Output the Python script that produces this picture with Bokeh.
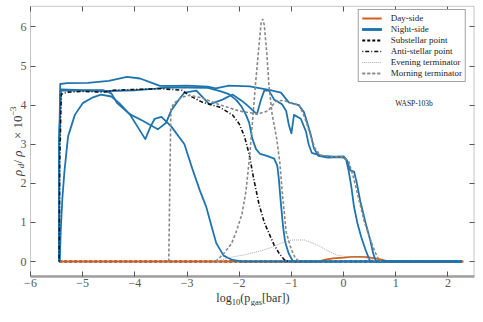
import math
from bokeh.plotting import figure
from bokeh.models import (Range1d, FixedTicker, LinearAxis, Label, Legend, LegendItem,
                          BoxAnnotation)
from bokeh.embed import file_html
from bokeh.resources import INLINE

# ---------------- data ----------------
x_ticks = [-6, -5, -4, -3, -2, -1, 0, 1, 2]
x_tick_labels = ["\u22126", "\u22125", "\u22124", "\u22123", "\u22122", "\u22121", "0", "1", "2"]
y_ticks = [0, 1, 2, 3, 4, 5, 6]
y_tick_labels = ["0", "1", "2", "3", "4", "5", "6"]
x_limits = [-6.0, 2.5]
y_limits = [-0.372, 6.526]

substellar_x = [-5.45, 2.3]
substellar_y = [0.0, 0.0]

day_x = [-5.45, -0.48, -0.35, -0.2, 0.0, 0.15, 0.3, 0.45, 0.6, 0.75, 0.86, 2.3]
day_y = [0.0, 0.0, 0.05, 0.08, 0.1, 0.12, 0.12, 0.11, 0.08, 0.04, 0.0, 0.0]

night1_x = [-5.45, -5.45, -5.43, -5.3, -4.9, -4.5, -4.15, -3.9, -3.7, -3.52, -3.3, -3.0, -2.6, -2.45,
            -2.2, -1.8, -1.43, -1.2, -1.05, -0.86, -0.76, -0.70, -0.63, -0.57, -0.48, -0.3, -0.1,
            0.0, 0.05, 0.1, 0.15, 0.2, 0.27, 0.34, 0.42, 0.5, 0.55, 2.27]
night1_y = [0.0, 3.0, 4.54, 4.56, 4.57, 4.62, 4.72, 4.68, 4.58, 4.49, 4.49, 4.5, 4.47, 4.43,
            4.5, 4.48, 4.39, 4.32, 4.07, 4.0, 3.82, 3.57, 3.25, 2.9, 2.7, 2.66, 2.67,
            2.66, 2.6, 2.3, 1.9, 1.4, 0.95, 0.62, 0.3, 0.03, 0.0, 0.0]

night2_x = [-5.45, -5.45, -5.42, -5.0, -4.6, -4.45, -4.34, -4.1, -3.85, -3.56, -3.4, -3.3, -3.15,
            -3.05, -2.82, -2.57, -2.32, -2.13, -1.96, -1.85, -1.66, -1.58, -1.52, -1.43, -1.33,
            -1.18, -1.1, -1.05, -1.0, -0.95, -0.82, -0.72, -0.67, -0.61, -0.42, -0.2, 0.0, 0.06,
            0.13, 0.2, 0.25, 0.32, 0.42, 0.51, 0.57, 0.62, 2.27]
night2_y = [0.0, 3.0, 4.4, 4.38, 4.38, 4.3, 4.05, 3.77, 3.6, 3.38, 3.55, 3.87, 4.15,
            4.32, 4.37, 4.02, 4.14, 4.27, 4.12, 4.0, 3.77, 4.15, 4.37, 4.37, 4.14,
            4.02, 3.85, 3.5, 3.28, 3.75, 3.65, 3.32, 3.0, 2.78, 2.7, 2.68, 2.69, 2.6,
            2.33, 2.3, 2.03, 1.54, 1.0, 0.55, 0.2, 0.0, 0.0]

night3_x = [-5.45, -5.45, -5.42, -5.0, -4.5, -4.0, -3.6, -3.4, -3.0, -2.6, -2.35, -2.2, -2.05,
            -1.95, -1.87, -1.81, -1.75, -1.68, -1.6, -1.47, -1.33, -1.27, -1.24, -1.2, -1.16,
            -1.12, -1.05, -0.97, 2.27]
night3_y = [0.0, 3.0, 4.38, 4.37, 4.36, 4.38, 4.42, 4.45, 4.45, 4.44, 4.35, 4.28, 4.12,
            3.95, 3.75, 3.55, 3.15, 2.88, 2.75, 2.7, 2.63, 2.45, 2.1, 1.46, 0.9,
            0.5, 0.2, 0.0, 0.0]

night4_x = [-5.44, -5.42, -5.39, -5.35, -5.28, -5.15, -5.0, -4.8, -4.65, -4.45, -4.3, -4.1, -3.95,
            -3.8, -3.7, -3.62, -3.49, -3.3, -3.05, -2.9, -2.75, -2.63, -2.52, -2.44, -2.3,
            -2.13, -1.95, 2.27]
night4_y = [0.0, 0.8, 1.6, 2.3, 3.2, 3.75, 4.05, 4.2, 4.27, 4.22, 4.05, 3.77, 3.45,
            3.13, 3.45, 3.65, 3.7, 3.45, 3.0, 2.38, 1.8, 1.39, 0.85, 0.47, 0.15,
            0.04, 0.0, 0.0]

anti_x = [-5.45, -5.44, -5.41, -5.3, -5.0, -4.6, -4.4, -4.0, -3.5, -3.1, -2.95, -2.7, -2.38,
          -2.13, -2.0, -1.9, -1.81, -1.72, -1.62, -1.52, -1.43, -1.33, -1.24, -1.14, -1.05]
anti_y = [0.0, 2.5, 4.28, 4.33, 4.35, 4.33, 4.38, 4.4, 4.42, 4.38, 4.24, 4.07, 3.95,
          3.75, 3.52, 3.2, 2.75, 2.1, 1.46, 1.0, 0.72, 0.42, 0.22, 0.05, 0.0]

evening_x = [-2.42, -2.2, -1.9, -1.6, -1.4, -1.2, -1.0, -0.75, -0.5, -0.3, -0.1, 0.1, 0.4, 0.55, 0.62]
evening_y = [0.0, 0.1, 0.17, 0.27, 0.35, 0.47, 0.55, 0.55, 0.42, 0.27, 0.15, 0.12, 0.1, 0.05, 0.0]

morning1_x = [-3.35, -3.33, -3.31, -3.25, -3.1, -2.95, -2.7, -2.4, -2.0, -1.65, -1.45, -1.3,
              -1.15, -1.0, -0.85, -0.75, -0.65, -0.55, -0.45, -0.2, 0.0, 0.1, 0.2, 0.3, 0.4,
              0.5, 0.6, 0.68, 0.72]
morning1_y = [0.0, 2.0, 3.9, 4.05, 4.2, 4.25, 4.18, 4.02, 3.85, 3.77, 3.85, 4.1,
              4.12, 4.05, 4.0, 3.7, 3.3, 2.9, 2.72, 2.68, 2.68, 2.55, 2.1, 1.55, 1.0,
              0.62, 0.25, 0.03, 0.0]

morning2_x = [-2.45, -2.3, -2.15, -2.06, -1.95, -1.87, -1.8, -1.75, -1.69, -1.63, -1.58, -1.55,
              -1.52, -1.47, -1.43, -1.37, -1.28, -1.22, -1.17, -1.1, -1.0, -0.93, -0.85]
morning2_y = [0.0, 0.2, 0.45, 0.75, 1.2, 1.8, 2.7, 3.5, 4.5, 5.4, 6.1, 6.2,
              6.05, 5.3, 4.5, 3.77, 3.13, 2.5, 1.7, 0.75, 0.3, 0.1, 0.0]

legend_labels = ["Day-side", "Night-side", "Substellar point", "Anti-stellar point",
                 "Evening terminator", "Morning terminator"]
planet_name = "WASP-103b"

# ---------------- layout ----------------
W, H = 475, 306
XS = 52.18          # px per x unit
YS = 39.1           # px per y unit
LEFT_PX = 30        # canvas px of x = -6
ZERO_PX = 261       # canvas px of y = 0
x0 = x_limits[0] - LEFT_PX / XS
x1 = x0 + W / XS
y1 = ZERO_PX / YS
y0 = y1 - H / YS

ORANGE = "#d2601a"
BLUE = "#1f74b0"
SERIF = "Liberation Serif"

p = figure(width=W, height=H, x_range=Range1d(x0, x1), y_range=Range1d(y0, y1),
           output_backend="svg", toolbar_location=None, min_border=0,
           min_border_left=0, min_border_right=0, min_border_top=0, min_border_bottom=0)
p.xgrid.visible = False
p.ygrid.visible = False
p.outline_line_color = None
p.background_fill_color = "white"
p.border_fill_color = "white"

def style_axis(ax, ticks, loc, bounds, labels=None):
    ax.ticker = FixedTicker(ticks=ticks)
    ax.fixed_location = loc
    ax.bounds = tuple(bounds)
    ax.major_tick_in = 5
    ax.major_tick_out = 0
    ax.major_tick_line_color = "#555555"
    ax.minor_tick_line_color = None
    ax.axis_line_color = None
    if labels is not None:
        ax.major_label_overrides = {t: l for t, l in zip(ticks, labels)}
        ax.major_label_text_font = SERIF
        ax.major_label_text_font_size = "12px"
        ax.major_label_text_color = "#555555"
        ax.major_label_standoff = 3
    else:
        ax.major_label_text_color = None

style_axis(p.xaxis[0], x_ticks, y_limits[0], x_limits, x_tick_labels)
p.xaxis[0].axis_line_color = "#a0a0a0"
p.xaxis[0].axis_line_width = 2.5
style_axis(p.yaxis[0], y_ticks, x_limits[0], y_limits, y_tick_labels)
p.yaxis[0].major_label_standoff = 4

top_ax = LinearAxis()
style_axis(top_ax, x_ticks, y_limits[1], x_limits)
p.add_layout(top_ax, "above")
right_ax = LinearAxis()
style_axis(right_ax, y_ticks, x_limits[1], y_limits)
p.add_layout(right_ax, "right")

p.add_layout(BoxAnnotation(left=x_limits[0], right=x_limits[1], bottom=y_limits[0], top=y_limits[1],
                           fill_alpha=0, fill_color=None, line_color="#444444", line_width=1,
                           level="underlay"))

# ---------------- curves ----------------
r_sub = p.line(substellar_x, substellar_y, line_color="black", line_width=2, line_dash="3 2")
r_day = p.line(day_x, day_y, line_color=ORANGE, line_width=1.8)
r_n = []
for xs, ys in [(night1_x, night1_y), (night2_x, night2_y), (night3_x, night3_y), (night4_x, night4_y)]:
    r_n.append(p.line(xs, ys, line_color=BLUE, line_width=1.8, line_join="round"))
r_anti = p.line(anti_x, anti_y, line_color="#111111", line_width=1.6, line_dash="1 2 4 2")
r_eve = p.line(evening_x, evening_y, line_color="#aaaaaa", line_width=1, line_dash="1 1")
r_m1 = p.line(morning1_x, morning1_y, line_color="#888888", line_width=1.6, line_dash="3 2")
r_m2 = p.line(morning2_x, morning2_y, line_color="#888888", line_width=1.6, line_dash="3 2")

legend = Legend(items=[
    LegendItem(label=legend_labels[0], renderers=[r_day]),
    LegendItem(label=legend_labels[1], renderers=r_n),
    LegendItem(label=legend_labels[2], renderers=[r_sub]),
    LegendItem(label=legend_labels[3], renderers=[r_anti]),
    LegendItem(label=legend_labels[4], renderers=[r_eve]),
    LegendItem(label=legend_labels[5], renderers=[r_m1, r_m2]),
], location="top_right")
legend.margin = 9
legend.padding = 3
legend.spacing = 1
legend.glyph_width = 20
legend.glyph_height = 10
legend.label_height = 10
legend.label_standoff = 9
legend.label_text_font = SERIF
legend.label_text_font_size = "9px"
legend.label_text_color = "#222222"
legend.border_line_color = "#444444"
legend.border_line_width = 1
legend.background_fill_alpha = 1
p.add_layout(legend)

p.add_layout(Label(x=0.99, y=4.04, text=planet_name, text_font=SERIF, text_font_size="7.5px",
                   text_color="#222222", text_baseline="middle", text_align="left"))

# ---------------- composed axis titles (positions in reference pixels) ----------------
def px2x(px):
    return (px - 345) / 52.5

def py2y(py):
    return (269 - py) / 40.3

TXT = "#333333"
for txt, px, py, size in [("log", 217, 307, "12px"), ("10", 232.5, 310.5, "8.5px"),
                          ("(p", 241, 307, "12px"), ("gas", 251.5, 310.5, "8.5px"),
                          ("[bar])", 263, 307, "12px")]:
    p.add_layout(Label(x=px2x(px), y=py2y(py), text=txt, text_font=SERIF, text_font_size=size,
                       text_color=TXT, text_align="left", text_baseline="alphabetic"))

for txt, bx, py, size, style, align in [
        ("\u03c1", 17, 181, "13px", "italic", "left"),
        ("d", 20, 173, "9px", "italic", "left"),
        ("/", 17, 168, "13px", "normal", "left"),
        ("\u03c1", 17, 161, "13px", "italic", "left"),
        ("\u00d7", 17, 139, "13px", "normal", "center"),
        ("10", 17, 132, "13px", "normal", "left"),
        ("\u22123", 12, 119, "9px", "normal", "left")]:
    p.add_layout(Label(x=px2x(bx), y=py2y(py), text=txt, text_font=SERIF, text_font_size=size,
                       text_font_style=style, text_color=TXT, text_align=align,
                       text_baseline="alphabetic", angle=math.pi / 2))

open("out.html", "w").write(file_html(p, INLINE))
